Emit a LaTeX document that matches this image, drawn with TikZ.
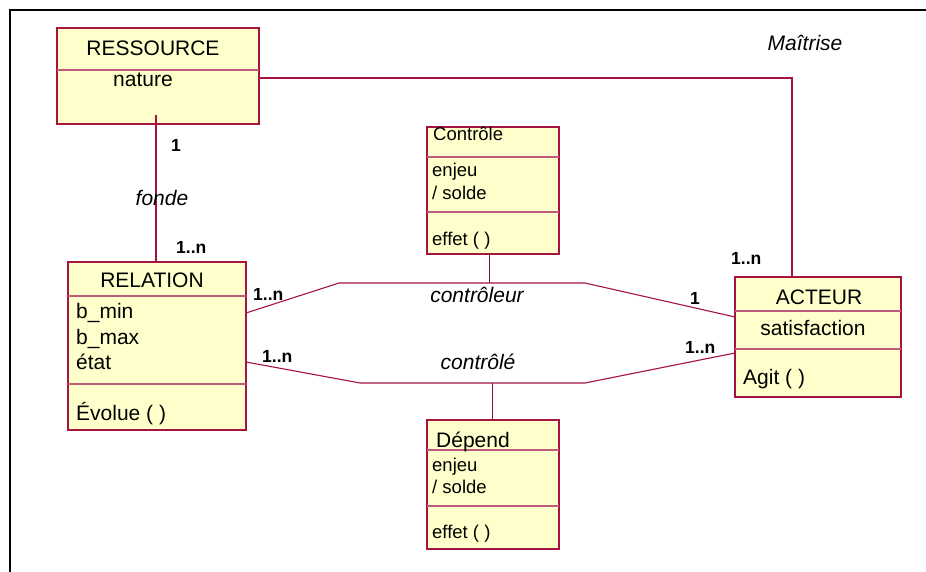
\documentclass[tikz,border=0pt]{standalone}
\usepackage{fontspec}
\setmainfont{Liberation Sans}
\usetikzlibrary{%
  calc,
  positioning
}
\definecolor{bordeau}{RGB}{165,20,65}
\definecolor{creme}{RGB}{255,255,204}

\newcommand{\classe}[6]{%
  % #1 nom, #2 x, #3 y, #4 largeur, #5 hauteur, #6 separations
  \node [classebox, anchor=north west,
         minimum width=#4pt, minimum height=#5pt] (#1) at (#2,#3) {} ;
  \foreach \s in {#6} {
    \draw [separe] ($(#1.north west)+(0,\s)$) -- ($(#1.north east)+(0,\s)$) ;
  }
}

\begin{document}
\begin{tikzpicture}[
  x=1pt, y=-1pt,
  classebox/.style={draw=bordeau, fill=creme, line width=1.5pt,
                    inner sep=0pt, outer sep=0pt},
  separe/.style={draw=bordeau!70, line width=1.2pt},
  lien/.style={draw=bordeau, line width=1.1pt},
  attache/.style={draw=bordeau!80!black, line width=0.7pt},
  titre/.style={font=\fontsize{21}{24}\selectfont, inner sep=0pt},
  txt/.style={font=\fontsize{21}{24}\selectfont, inner sep=0pt},
  petit/.style={font=\fontsize{18.5}{22}\selectfont, inner sep=0pt},
  role/.style={font=\itshape\fontsize{21}{24}\selectfont, inner sep=0pt},
  mult/.style={font=\bfseries\fontsize{17.5}{22}\selectfont, inner sep=0pt},
]
  \useasboundingbox (0,0) rectangle (926,572) ;

  % cadre
  \draw [line width=2.5pt] (10,572) -- (10,10) -- (926,10) ;

  % classes
  \classe{ressource}{57}{28}{202}{96}{42}
  \classe{relation}{68}{262}{178}{168}{34, 122}
  \classe{controle}{427}{127}{132}{127}{30, 85}
  \classe{depend}{427}{420}{132}{129}{30, 86}
  \classe{acteur}{735}{277}{166}{120}{34, 72}

  % coudes des associations
  \coordinate (cA) at (339,283) ;
  \coordinate (cB) at (585,283) ;
  \coordinate (dA) at (360,383) ;
  \coordinate (dB) at (585,383) ;

  % associations
  \draw [lien] ([xshift=-2pt, yshift=9pt]ressource.south)
               -- ([xshift=-1pt]relation.north) ;
  \draw [lien] ($(ressource.north east)+(0,50)$)
               -| ($(acteur.north west)+(57,0)$) ;
  \draw [lien] ($(relation.north east)+(0,51)$) -- (cA) -- (cB)
               -- ($(acteur.north west)+(0,40)$) ;
  \draw [lien] ($(relation.north east)+(0,100)$) -- (dA) -- (dB)
               -- ($(acteur.north west)+(0,76)$) ;
  \draw [attache] ([xshift=-4pt]controle.south)
                  -- ([xshift=-4pt]controle.south |- cA) ;
  \draw [attache] ([xshift=-1pt]depend.north)
                  -- ([xshift=-1pt]depend.north |- dA) ;

  % RESSOURCE
  \node [titre, anchor=base] (ress-nom) at (153,56) {RESSOURCE} ;
  \node [txt, anchor=base west] (ress-a1) at (113,87) {nature} ;

  % RELATION
  \node [titre, anchor=base] (rel-nom) at (152,287) {RELATION} ;
  \foreach \t/\y [count=\i] in {b\_min/318, b\_max/344, état/369} {
    \node [txt, anchor=base west] (rel-a\i) at (76,\y) {\t} ;
  }
  \node [txt, anchor=base west] (rel-m1) at (76,420) {Évolue ( )} ;

  % Controle
  \node [petit, anchor=base west] (ctl-nom) at (433,141) {Contrôle} ;
  \node [petit, anchor=base west] (ctl-a1) at (432,177) {enjeu} ;
  \node [petit, anchor=base west] (ctl-a2) at (432,200) {/ solde} ;
  \node [petit, anchor=base west] (ctl-m1) at (432,245) {effet ( )} ;

  % Depend
  \node [titre, anchor=base west] (dep-nom) at (436,447) {Dépend} ;
  \node [petit, anchor=base west] (dep-a1) at (432,471) {enjeu} ;
  \node [petit, anchor=base west] (dep-a2) at (432,493) {/ solde} ;
  \node [petit, anchor=base west] (dep-m1) at (432,538) {effet ( )} ;

  % ACTEUR
  \node [titre, anchor=base] (act-nom) at (819,304) {ACTEUR} ;
  \node [txt, anchor=base] (act-a1) at (813,335) {satisfaction} ;
  \node [txt, anchor=base west] (act-m1) at (743,384) {Agit ( )} ;

  % roles
  \node [role, anchor=base] (r-maitrise) at (805,51) {Maîtrise} ;
  \node [role, anchor=base] (r-fonde) at (162,206) {fonde} ;
  \node [role, anchor=base] (r-ctleur) at (477,302) {contrôleur} ;
  \node [role, anchor=base] (r-ctle) at (478,369) {contrôlé} ;

  % multiplicites
  \node [mult, anchor=base] (m1) at (176,152) {1} ;
  \node [mult, anchor=base west] (m2) at (176,253) {1..n} ;
  \node [mult, anchor=base west] (m3) at (731,264) {1..n} ;
  \node [mult, anchor=base west] (m4) at (253,300) {1..n} ;
  \node [mult, anchor=base] (m5) at (695,304) {1} ;
  \node [mult, anchor=base west] (m6) at (262,362) {1..n} ;
  \node [mult, anchor=base west] (m7) at (685,353) {1..n} ;
\end{tikzpicture}
\end{document}
